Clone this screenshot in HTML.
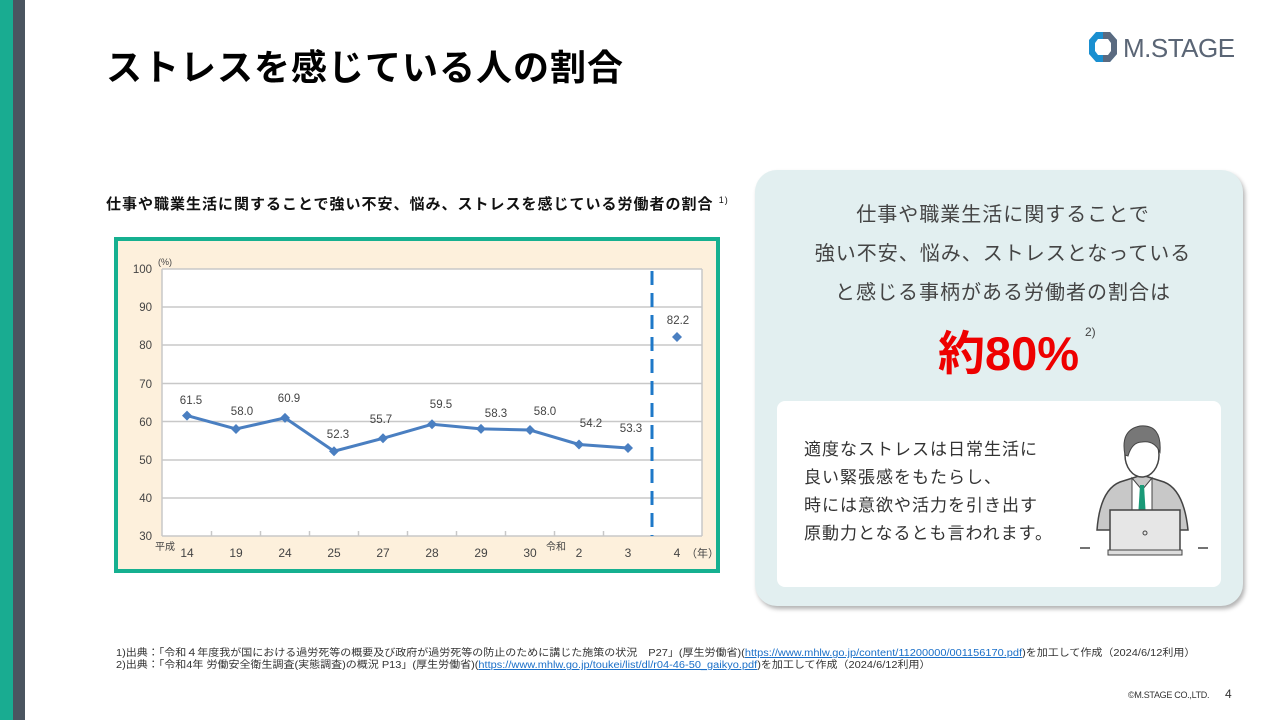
<!DOCTYPE html>
<html><head><meta charset="utf-8"><style>
*{margin:0;padding:0;box-sizing:border-box}
body{width:1280px;height:720px;overflow:hidden;background:#fff;position:relative;font-family:"Liberation Sans","Noto Sans CJK JP",sans-serif}
.a{position:absolute;white-space:nowrap}
</style></head><body>
<div class="a" style="left:0;top:0;width:13px;height:720px;background:#19ac91"></div>
<div class="a" style="left:13px;top:0;width:12px;height:720px;background:#4a5560"></div>
<div class="a" style="left:106px;top:44px;font-size:36px;font-weight:bold;color:#000;line-height:48px;letter-spacing:1px">ストレスを感じている人の割合</div>
<svg class="a" style="left:1087px;top:31px" width="32" height="32" viewBox="0 0 32 32"><polygon points="9,1 23,1 30,9 30,23 23,31 9,31 2,23 2,9" fill="#1a8fd0"/><polygon points="16,1 23,1 30,9 30,23 23,31 16,31" fill="#5a6a80"/><polygon points="11,8 21,8 24,12 24,20 21,24 11,24 8,20 8,12" fill="#fff"/></svg>
<div class="a" style="left:1123px;top:33px;font-size:26px;color:#5a6575;line-height:30px;letter-spacing:-0.5px">M.STAGE</div>
<div class="a" style="left:106px;top:190px;font-size:15px;font-weight:bold;color:#111;line-height:20px;letter-spacing:1px">仕事や職業生活に関することで強い不安、悩み、ストレスを感じている労働者の割合 <sup style="font-size:9px;font-weight:normal">1)</sup></div>
<svg class="a" style="left:0;top:0" width="1280" height="720">
<rect x="116" y="239" width="602" height="332" fill="#fdf0dc" stroke="#16b090" stroke-width="4"/>
<rect x="162" y="269" width="540" height="267" fill="#fff"/>
<g stroke="#c8c8c8" stroke-width="1.5">
<line x1="162" y1="269" x2="702" y2="269"/><line x1="162" y1="307" x2="702" y2="307"/><line x1="162" y1="345" x2="702" y2="345"/><line x1="162" y1="383.5" x2="702" y2="383.5"/><line x1="162" y1="421.5" x2="702" y2="421.5"/><line x1="162" y1="460" x2="702" y2="460"/><line x1="162" y1="498" x2="702" y2="498"/><line x1="162" y1="536" x2="702" y2="536"/><line x1="162" y1="269" x2="162" y2="536"/><line x1="702" y1="269" x2="702" y2="536"/>
<line x1="211.5" y1="536" x2="211.5" y2="531"/><line x1="260.5" y1="536" x2="260.5" y2="531"/><line x1="309.5" y1="536" x2="309.5" y2="531"/><line x1="358.5" y1="536" x2="358.5" y2="531"/><line x1="407.5" y1="536" x2="407.5" y2="531"/><line x1="456.5" y1="536" x2="456.5" y2="531"/><line x1="505.5" y1="536" x2="505.5" y2="531"/><line x1="554.5" y1="536" x2="554.5" y2="531"/><line x1="603.5" y1="536" x2="603.5" y2="531"/>
</g>
<line x1="652" y1="271" x2="652" y2="536" stroke="#1e78c8" stroke-width="3" stroke-dasharray="14,8"/>
<g font-size="11.5" fill="#444" text-anchor="end"><text x="152" y="273">100</text><text x="152" y="311">90</text><text x="152" y="349">80</text><text x="152" y="388">70</text><text x="152" y="426">60</text><text x="152" y="464">50</text><text x="152" y="502">40</text><text x="152" y="540">30</text></g>
<text x="158" y="265" font-size="9" fill="#444">(%)</text>
<polyline fill="none" stroke="#4a7fc1" stroke-width="3" points="187,415.6 236,429 285,417.9 334,451.2 383,438.3 432,424.3 481,428.9 530,430 579,444.5 628,448"/>
<g fill="#4a7fc1">
<path d="M187,410.6l5,5-5,5-5-5z"/><path d="M236,424l5,5-5,5-5-5z"/><path d="M285,412.9l5,5-5,5-5-5z"/><path d="M334,446.2l5,5-5,5-5-5z"/><path d="M383,433.3l5,5-5,5-5-5z"/><path d="M432,419.3l5,5-5,5-5-5z"/><path d="M481,423.9l5,5-5,5-5-5z"/><path d="M530,425l5,5-5,5-5-5z"/><path d="M579,439.5l5,5-5,5-5-5z"/><path d="M628,443l5,5-5,5-5-5z"/><path d="M677,332l5,5-5,5-5-5z"/></g>
<g font-size="11.5" fill="#444" text-anchor="middle"><text x="191" y="404">61.5</text><text x="242" y="415">58.0</text><text x="289" y="402">60.9</text><text x="338" y="438">52.3</text><text x="381" y="423">55.7</text><text x="441" y="408">59.5</text><text x="496" y="417">58.3</text><text x="545" y="415">58.0</text><text x="591" y="427">54.2</text><text x="631" y="432">53.3</text><text x="678" y="324">82.2</text></g>
<g font-size="12" fill="#444" text-anchor="middle"><text x="187" y="557">14</text><text x="236" y="557">19</text><text x="285" y="557">24</text><text x="334" y="557">25</text><text x="383" y="557">27</text><text x="432" y="557">28</text><text x="481" y="557">29</text><text x="530" y="557">30</text><text x="579" y="557">2</text><text x="628" y="557">3</text><text x="677" y="557">4</text></g>
<text x="155" y="550" font-size="10" fill="#444">平成</text><text x="546" y="550" font-size="10" fill="#444">令和</text><text x="686" y="557" font-size="11" fill="#444">（年）</text>
</svg>
<div class="a" style="left:755px;top:170px;width:488px;height:436px;background:#e2eff0;border-radius:22px;box-shadow:2px 3px 4px rgba(0,0,0,0.3)"></div>
<div class="a" style="left:755px;top:196px;width:496px;text-align:center;font-size:20px;line-height:39px;color:#444;letter-spacing:1px;white-space:normal">仕事や職業生活に関することで<br>強い不安、悩み、ストレスとなっている<br>と感じる事柄がある労働者の割合は</div>
<div class="a" style="left:938px;top:324px;font-size:47px;font-weight:bold;color:#ee0000;line-height:60px">約80%</div>
<div class="a" style="left:1085px;top:325px;font-size:12px;color:#444">2)</div>
<div class="a" style="left:777px;top:401px;width:444px;height:186px;background:#fff;border-radius:8px"></div>
<div class="a" style="left:804px;top:436px;font-size:17px;line-height:28px;color:#333;letter-spacing:1px">適度なストレスは日常生活に<br>良い緊張感をもたらし、<br>時には意欲や活力を引き出す<br>原動力となるとも言われます。</div>
<svg class="a" style="left:1080px;top:420px" width="130" height="140" viewBox="0 0 130 140">
<path d="M17,110 Q20,70 40,62 L62,55 L84,62 Q104,70 108,110 Z" fill="#c8c8c8" stroke="#444" stroke-width="1.5"/>
<path d="M52,58 L62,70 L72,58 L72,100 L52,100Z" fill="#fff" stroke="#444" stroke-width="1"/>
<path d="M60,65 L64,65 L66,98 L58,98Z" fill="#1a9a78"/>
<ellipse cx="62" cy="35" rx="17" ry="22" fill="#fff" stroke="#444" stroke-width="1.5"/>
<path d="M45,35 Q40,10 60,6 Q82,4 80,32 Q74,20 62,22 Q52,22 48,36Z" fill="#777" stroke="#444"/>
<rect x="30" y="90" width="70" height="42" fill="#e6e6e6" stroke="#444" stroke-width="1.5"/>
<rect x="28" y="130" width="74" height="5" fill="#ddd" stroke="#444"/>
<circle cx="65" cy="113" r="2" fill="none" stroke="#444"/>
<line x1="0" y1="128" x2="10" y2="128" stroke="#444" stroke-width="1.5"/><line x1="118" y1="128" x2="128" y2="128" stroke="#444" stroke-width="1.5"/>
</svg>
<div class="a" style="left:116px;top:648px;font-size:10px;line-height:12px;color:#333;transform:scaleX(1.1);transform-origin:left top">1)出典：「令和４年度我が国における過労死等の概要及び政府が過労死等の防止のために講じた施策の状況　P27」(厚生労働省)(<span style="color:#1a6fc8;text-decoration:underline">https://www.mhlw.go.jp/content/11200000/001156170.pdf</span>)を加工して作成（2024/6/12利用）<br>2)出典：「令和4年 労働安全衛生調査(実態調査)の概況 P13」(厚生労働省)(<span style="color:#1a6fc8;text-decoration:underline">https://www.mhlw.go.jp/toukei/list/dl/r04-46-50_gaikyo.pdf</span>)を加工して作成（2024/6/12利用）</div>
<div class="a" style="left:1128px;top:690px;font-size:9px;color:#333;letter-spacing:-0.3px">©M.STAGE CO.,LTD.</div>
<div class="a" style="left:1225px;top:687px;font-size:12px;color:#333">4</div>
</body></html>
